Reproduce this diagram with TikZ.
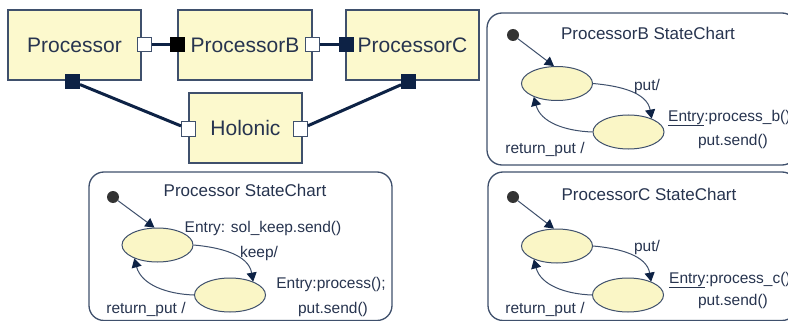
\documentclass[tikz,border=0pt]{standalone}
\usepackage{fontspec}
\setmainfont{Liberation Sans}
\usetikzlibrary{arrows.meta,shapes.geometric}
\definecolor{boxfill}{HTML}{FCF9CD}
\definecolor{ellfill}{HTML}{FAF6C6}
\definecolor{edgec}{HTML}{3F506C}
\definecolor{textc}{HTML}{27344F}
\definecolor{navy}{HTML}{0D2245}
\definecolor{dotc}{HTML}{333333}
\begin{document}
\begin{tikzpicture}[x=1pt,y=1pt,
  comp/.style={draw=edgec, line width=1.3pt, fill=boxfill, minimum height=70pt, inner sep=0pt, text=textc, font=\fontsize{21}{24}\selectfont},
  wport/.style={draw=edgec, line width=1pt, fill=white, minimum size=14pt, inner sep=0pt},
  bport/.style={draw=navy, line width=1pt, fill=navy, minimum size=14pt, inner sep=0pt},
  conn/.style={draw=navy, line width=3pt},
  scframe/.style={draw=edgec, line width=1.3pt, rounded corners=15pt},
  st/.style={ellipse, draw=edgec, line width=1pt, fill=ellfill, minimum width=71pt, minimum height=34pt, inner sep=0pt},
  init/.style={circle, fill=dotc, minimum size=12pt, inner sep=0pt},
  tr/.style={draw=edgec, line width=1pt, -{Triangle[length=9pt,width=10pt,color=navy]}},
  lbl/.style={text=textc, font=\fontsize{15.5}{18}\selectfont, inner sep=0pt},
  ttl/.style={text=textc, font=\fontsize{17}{20}\selectfont, inner sep=0pt}]
\useasboundingbox (0,0) rectangle (788,-321);
\clip (0,0) rectangle (788,-321);
\fill[white] (0,0) rectangle (788,-321);

% ---------- component diagram ----------
\node[comp, minimum width=133pt] (P) at (74.5,-45) {Processor};
\node[comp, minimum width=134pt] (PB) at (245,-45) {ProcessorB};
\node[comp, minimum width=133pt] (PC) at (412.5,-45) {ProcessorC};
\node[comp, minimum width=113pt] (H) at (245.5,-128) {Holonic};

\node[wport] (pR) at (144.5,-45) {};
\node[bport, fill=black, draw=black] (pbL) at (177,-45) {};
\node[wport] (pbR) at (312,-45) {};
\node[bport] (pcL) at (346,-45) {};
\node[bport] (pD) at (72.5,-81.5) {};
\node[bport] (pcD) at (408.5,-81.5) {};
\node[wport] (hL) at (188.5,-129) {};
\node[wport] (hR) at (300.5,-129) {};

\draw[conn] (pR) -- (pbL);
\draw[conn] (pbR) -- (pcL);
\draw[conn] (pD) -- (hL);
\draw[conn] (pcD) -- (hR);

% ---------- Processor StateChart ----------
\draw[scframe] (89,-172) rectangle (392,-320.5);
\node[ttl] (t1) at (245,-190) {Processor StateChart};
\node[init] (i1) at (113,-197) {};
\node[st] (a1) at (157.5,-245) {};
\node[st] (b1) at (230,-295) {};
\draw[tr] (i1) -- (a1.100);
\draw[tr] (a1.east) to[out=-5,in=100] (b1.30);
\draw[tr] (b1.west) to[out=178,in=-75] (a1.210);
\node[lbl] (l1) at (263,-228) {Entry: sol\_keep.send()};
\node[lbl] (l2) at (259,-253) {keep/};
\node[lbl] (l3) at (331,-284) {Entry:process();};
\node[lbl] (l4) at (333,-309) {put.send()};
\node[lbl] (l5) at (146,-309) {return\_put /};

% ---------- ProcessorB StateChart ----------
\draw[scframe] (487,-13) rectangle (797,-165);
\node[ttl] (t2) at (648,-33) {ProcessorB StateChart};
\node[init] (i2) at (513,-35) {};
\node[st] (a2) at (557,-83.5) {};
\node[st] (b2) at (628.5,-132) {};
\draw[tr] (i2) -- (a2.100);
\draw[tr] (a2.east) to[out=-5,in=100] (b2.30);
\draw[tr] (b2.west) to[out=178,in=-75] (a2.210);
\node[lbl] (m1) at (647,-86) {put/};
\node[lbl, anchor=west] (m2) at (668,-118) {\underline{Entry}:process\_b()};
\node[lbl] (m3) at (733,-141) {put.send()};
\node[lbl] (m4) at (545,-149) {return\_put /};

% ---------- ProcessorC StateChart ----------
\draw[scframe] (488,-172) rectangle (797,-320.5);
\node[ttl] (t3) at (649,-194) {ProcessorC StateChart};
\node[init] (i3) at (513,-197) {};
\node[st] (a3) at (557,-246) {};
\node[st] (b3) at (628,-295) {};
\draw[tr] (i3) -- (a3.100);
\draw[tr] (a3.east) to[out=-5,in=100] (b3.30);
\draw[tr] (b3.west) to[out=178,in=-75] (a3.210);
\node[lbl] (n1) at (647,-247) {put/};
\node[lbl, anchor=west] (n2) at (669,-280) {\underline{Entry}:process\_c()};
\node[lbl] (n3) at (733,-301) {put.send()};
\node[lbl] (n4) at (545,-309) {return\_put /};
\end{tikzpicture}
\end{document}
